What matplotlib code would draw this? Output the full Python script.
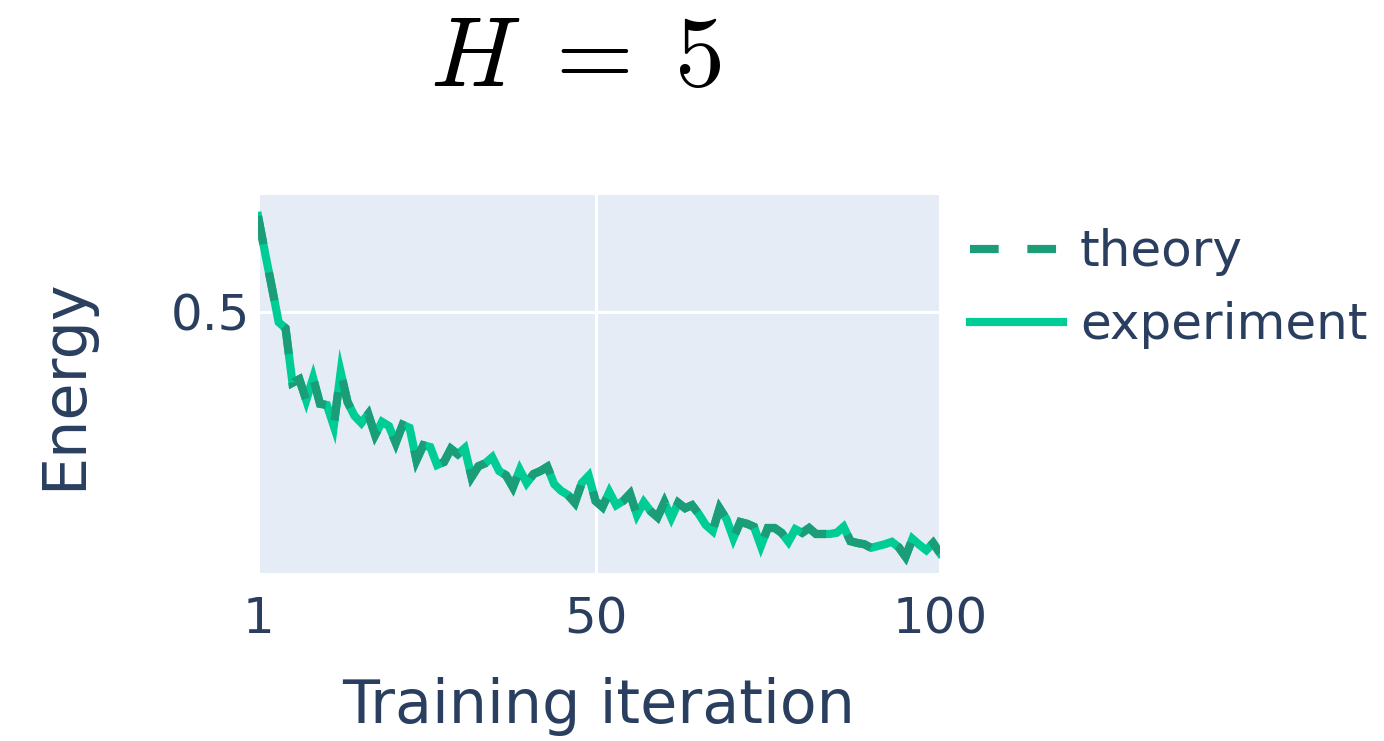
import matplotlib
matplotlib.use("Agg")
import matplotlib.pyplot as plt
from matplotlib.lines import Line2D

iterations = list(range(1, 101))
energy = [
    0.660, 0.600, 0.542, 0.483, 0.473, 0.382, 0.388, 0.353, 0.390, 0.347,
    0.345, 0.310, 0.400, 0.350, 0.327, 0.315, 0.330, 0.295, 0.317, 0.310,
    0.282, 0.312, 0.307, 0.253, 0.278, 0.275, 0.245, 0.250, 0.272, 0.263,
    0.273, 0.225, 0.243, 0.248, 0.258, 0.235, 0.228, 0.208, 0.237, 0.215,
    0.230, 0.235, 0.242, 0.213, 0.202, 0.195, 0.182, 0.215, 0.227, 0.185,
    0.175, 0.200, 0.178, 0.185, 0.197, 0.162, 0.183, 0.168, 0.158, 0.183,
    0.157, 0.182, 0.173, 0.178, 0.163, 0.145, 0.135, 0.173, 0.155, 0.123,
    0.150, 0.147, 0.142, 0.110, 0.140, 0.140, 0.132, 0.117, 0.138, 0.132,
    0.140, 0.130, 0.130, 0.130, 0.132, 0.142, 0.118, 0.115, 0.113, 0.107,
    0.110, 0.113, 0.117, 0.108, 0.092, 0.122, 0.112, 0.103, 0.115, 0.098,
]
theory = energy
experiment = energy

x_ticks = [1, 50, 100]
x_ticklabels = ["1", "50", "100"]
y_ticks = [0.5]
y_ticklabels = ["0.5"]

plt.rcParams['mathtext.fontset'] = 'cm'
plt.rcParams['font.family'] = ['DejaVu Sans']

W, H = 1384, 741
fig = plt.figure(figsize=(W / 100, H / 100), dpi=100)
ax = fig.add_axes([258 / W, 1 - 573 / H, (940 - 258) / W, (573 - 195) / H])
ax.set_facecolor('#E5ECF6')
for s in ax.spines.values():
    s.set_visible(False)

text_color = '#2a3f5f'
c_exp = '#00cc96'
c_th = '#1b9e77'
lw = 5.9

ax.plot(iterations, experiment, color=c_exp, lw=lw, zorder=3, solid_joinstyle='miter')
l_th, = ax.plot(iterations, theory, color=c_th, lw=lw, zorder=4, dash_joinstyle='miter')
l_th.set_dashes((3.5, 3.5))

ax.set_xlim(1, 100)
ax.set_ylim(0.065, 0.695)
ax.set_xticks(x_ticks)
ax.set_xticklabels(x_ticklabels)
ax.set_yticks(y_ticks)
ax.set_yticklabels(y_ticklabels)
ax.grid(True, color='white', lw=2.2, zorder=1)
ax.set_axisbelow(True)
ax.tick_params(axis='both', length=0, labelsize=36, colors=text_color)
ax.tick_params(axis='x', pad=16)
ax.tick_params(axis='y', pad=6)

ax.set_xlabel('Training iteration', fontsize=43.5, color=text_color, labelpad=24)
ax.set_ylabel('Energy', fontsize=43.5, color=text_color, labelpad=55)

fig.text(576 / W, 1 - 59 / H, r'$H\;=\;5$', fontsize=72, ha='center', va='center')

handles = [
    Line2D([], [], color=c_th, lw=lw, dashes=(3.5, 3.5)),
    Line2D([], [], color=c_exp, lw=lw),
]
leg = fig.legend(handles, ['theory', 'experiment'], loc='upper left',
                 bbox_to_anchor=(970 / W, 1 - 228 / H), frameon=False,
                 fontsize=36, handlelength=1.85, handletextpad=0.35,
                 labelspacing=0.5, borderaxespad=0, borderpad=0)
for t in leg.get_texts():
    t.set_color(text_color)

fig.savefig('out.png', dpi=100)
